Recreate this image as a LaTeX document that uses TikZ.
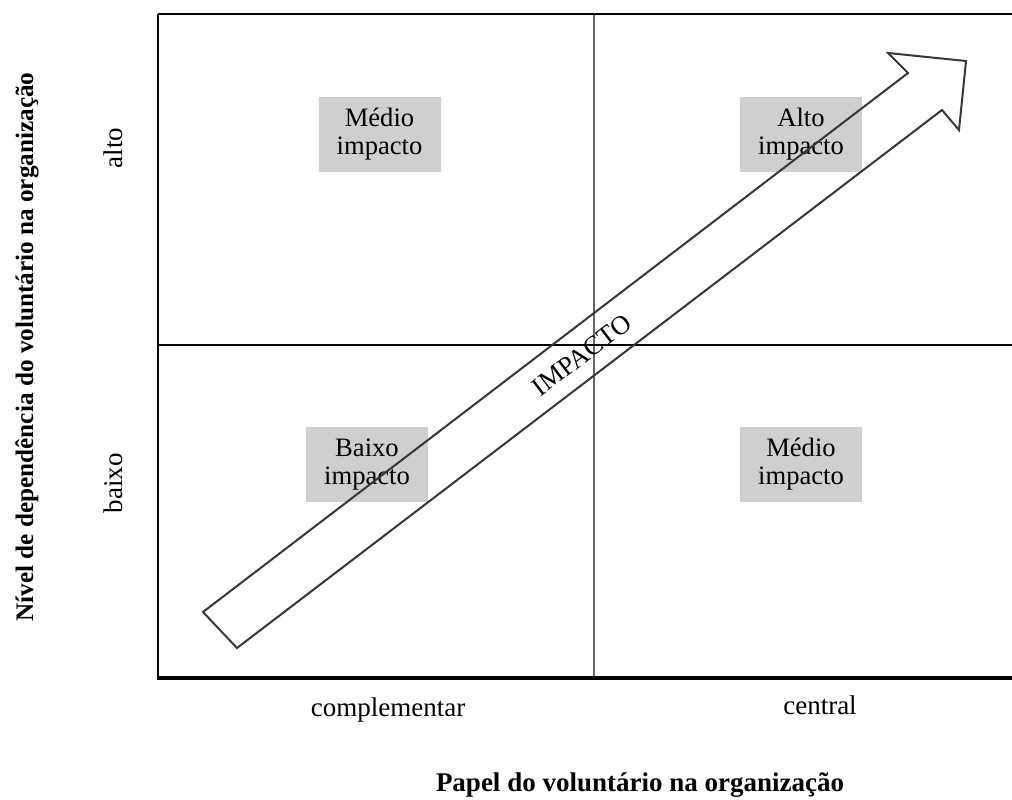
\documentclass[tikz,border=0pt]{standalone}
\usepackage{fontspec}
\setmainfont{Liberation Serif}
\definecolor{boxgray}{RGB}{208,206,208}
\definecolor{arrowgray}{RGB}{55,55,55}
\tikzset{
  quadbox/.style={fill=boxgray, minimum width=61pt, minimum height=37.5pt,
    inner sep=0pt, align=center, font=\fontsize{13.3}{14}\selectfont},
  axistext/.style={font=\fontsize{13.5}{16}\selectfont, inner sep=0pt},
  axistitle/.style={font=\bfseries\fontsize{13.5}{16}\selectfont, inner sep=0pt}
}
\begin{document}
\begin{tikzpicture}[x=0.5pt,y=-0.5pt]
  \useasboundingbox (0,0) rectangle (1012,799);

  % quadrant lines
  \draw[gray!80!black, line width=0.6pt] (594,14) -- (594,678);
  \draw[black, line width=0.6pt] (158,345) -- (1012,345);
  \draw[black, line width=0.6pt] (158,14) -- (1012,14);

  % quadrant boxes
  \node[quadbox] (medioA) at (379.5,134.5) {Médio\\impacto};
  \node[quadbox] (alto) at (801,134.5) {Alto\\impacto};
  \node[quadbox] (baixo) at (367,464.5) {Baixo\\impacto};
  \node[quadbox] (medioB) at (801,464.5) {Médio\\impacto};

  % big arrow
  \draw[arrowgray, line width=1pt, line join=miter]
    (203,612) -- (908,73) -- (888,53) -- (966,61) -- (959,130)
    -- (942,110) -- (237,648) -- cycle;
  \node[rotate=37.4, font=\fontsize{13.3}{14}\selectfont, inner sep=0pt] (impacto) at (582,355) {IMPACTO};

  % axes
  \draw[black, line width=1pt] (158,14) -- (158,679);
  \draw[black, line width=2pt] (157,678) -- (1012,678);

  % axis labels
  \node[axistext, rotate=90] (altoLbl) at (113,148) {alto};
  \node[axistext, rotate=90] (baixoLbl) at (113,483) {baixo};
  \node[axistext] (compLbl) at (388,710) {complementar};
  \node[axistext] (centLbl) at (820,705) {central};
  \node[axistitle, rotate=90, font=\bfseries\fontsize{12.6}{15}\selectfont] (yTitle) at (27,347) {Nível de dependência do voluntário na organização};
  \node[axistitle] (xTitle) at (640,785) {Papel do voluntário na organização};
\end{tikzpicture}
\end{document}
